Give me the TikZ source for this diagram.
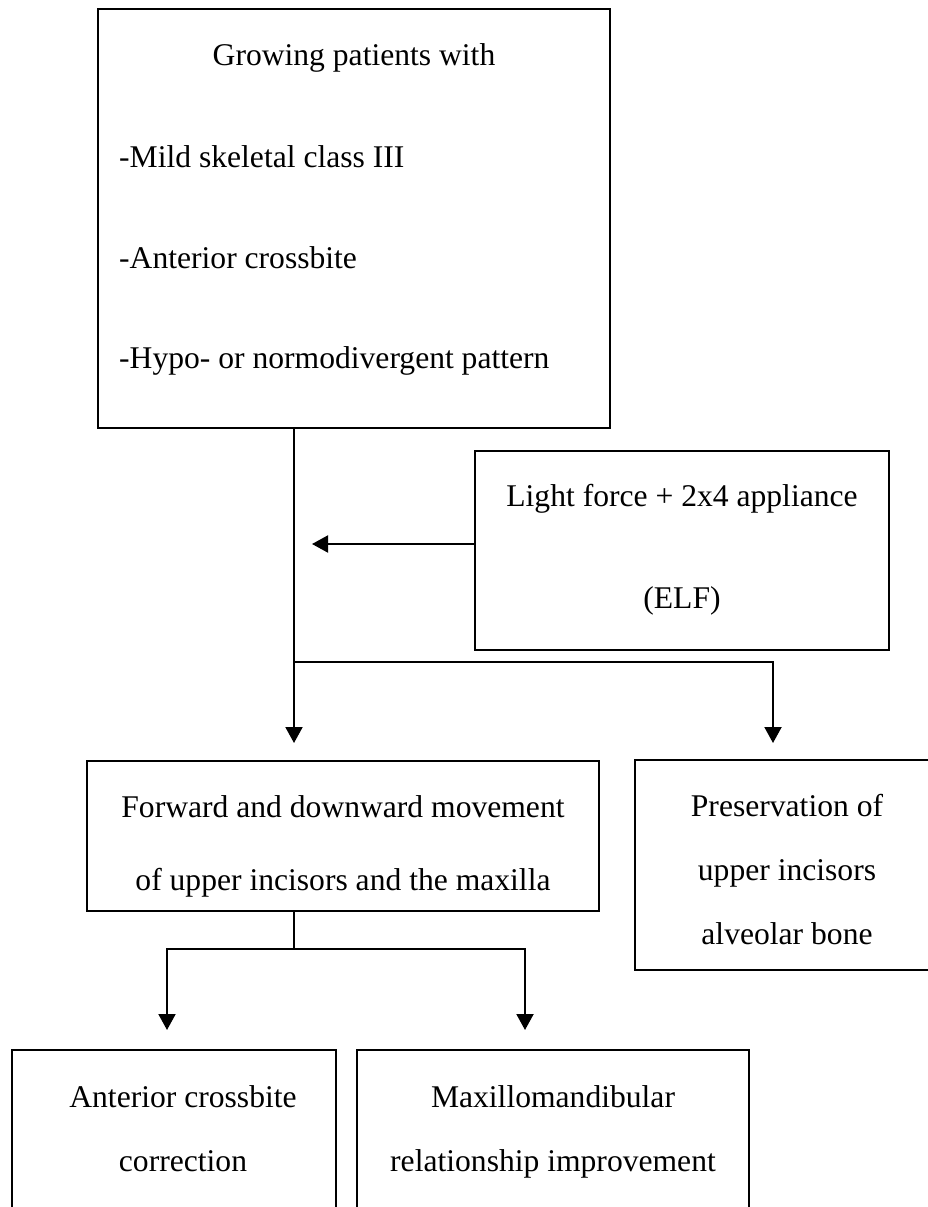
\documentclass[tikz,border=0pt]{standalone}
\usepackage{fontspec}
\setmainfont{Liberation Serif}
\usetikzlibrary{arrows.meta}

\begin{document}
\begin{tikzpicture}[x=1pt, y=-1pt,
    box/.style={draw, line width=1.8pt, inner sep=0pt},
    txt/.style={inner sep=0pt, font=\fontsize{31.6}{38}\selectfont},
    arr/.style={line width=2pt, -{Triangle[length=16pt, width=17pt]}},
    thinline/.style={line width=1.2pt}]
\useasboundingbox (0,0) rectangle (928,1207);
\clip (0,0) rectangle (928,1207);

% boxes
\node[box, minimum width=512pt, minimum height=419pt] (patients) at (354,218.5) {};
\node[box, minimum width=414pt, minimum height=199pt] (elf) at (682,550.5) {};
\node[box, minimum width=512pt, minimum height=150pt] (forward) at (343,836) {};
\node[box, minimum width=304pt, minimum height=210pt] (preserve) at (787,865) {};
\node[box, minimum width=324pt, minimum height=220pt] (crossbite) at (174,1160) {};
\node[box, minimum width=392pt, minimum height=220pt] (maxillo) at (553,1160) {};

% texts
\node[txt, anchor=base] (patients-t1) at (354,66) {Growing patients with};
\node[txt, anchor=base west] (patients-t2) at (119,167) {-Mild skeletal class III};
\node[txt, anchor=base west] (patients-t3) at (119,268) {-Anterior crossbite};
\node[txt, anchor=base west] (patients-t4) at (119,368) {-Hypo- or normodivergent pattern};
\node[txt, anchor=base] (elf-t1) at (682,506.7) {Light force + 2x4 appliance};
\node[txt, anchor=base] (elf-t2) at (682,608.3) {(ELF)};
\node[txt, anchor=base] (forward-t1) at (343,817.3) {Forward and downward movement};
\node[txt, anchor=base] (forward-t2) at (343,890.7) {of upper incisors and the maxilla};
\node[txt, anchor=base] (preserve-t1) at (787,816) {Preservation of};
\node[txt, anchor=base] (preserve-t2) at (787,880) {upper incisors};
\node[txt, anchor=base] (preserve-t3) at (787,944) {alveolar bone};
\node[txt, anchor=base] (crossbite-t1) at (183,1107) {Anterior crossbite};
\node[txt, anchor=base] (crossbite-t2) at (183,1171) {correction};
\node[txt, anchor=base] (maxillo-t1) at (553,1107) {Maxillomandibular};
\node[txt, anchor=base] (maxillo-t2) at (553,1171) {relationship improvement};

% connectors
\coordinate (split) at (294,662);
\coordinate (elfend) at (312,544);
\coordinate (forwardin) at (294,743);
\coordinate (preservein) at (773,743);
\draw[thinline] (patients.south -| split) -- (split);
\draw[arr] ([yshift=6.5pt]elf.west) -- (elfend);
\draw[arr] (split) -- (forwardin);
\draw[arr] (split) -| (preservein);

\coordinate (split2) at (294,949);
\coordinate (crossbitein) at (167,1030);
\coordinate (maxilloin) at (525,1030);
\draw[thinline] (forward.south -| split2) -- (split2);
\draw[arr] (split2) -| (crossbitein);
\draw[arr] (split2) -| (maxilloin);
\end{tikzpicture}
\end{document}
